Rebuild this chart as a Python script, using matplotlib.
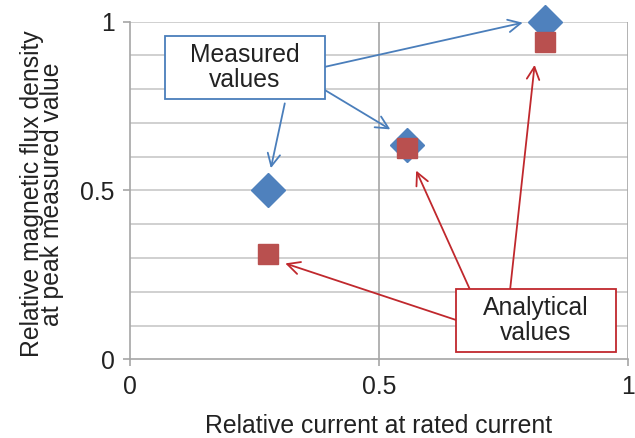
import matplotlib
matplotlib.use("Agg")
import matplotlib.pyplot as plt

plt.rcParams["font.family"] = ["Liberation Sans", "DejaVu Sans"]

# relative current vs relative flux density
current = [0.277, 0.556, 0.834]
measured = [0.50, 0.636, 1.00]
analytical = [0.312, 0.627, 0.94]

BLUE = "#4f81bd"
RED = "#b9504f"
BLUE_LINE = "#4a7ebb"
RED_LINE = "#c0282d"
FS = 17.8

fig = plt.figure(figsize=(6.35, 4.38), dpi=100)
ax = fig.add_axes([0.2047, 0.1797, 0.9885 - 0.2047, 0.9505 - 0.1797])

ax.set_xlim(0, 1)
ax.set_ylim(0, 1)

# horizontal grid every 0.1, vertical only at majors
for y in [i / 10 for i in range(1, 11)]:
    ax.axhline(y, color="#c8c8c8", lw=1.2, zorder=0)
for x in (0.5, 1.0):
    ax.axvline(x, color="#a6a6a6", lw=1.2, zorder=0)

for s in ("top", "right"):
    ax.spines[s].set_visible(False)
for s in ("left", "bottom"):
    ax.spines[s].set_color("#a6a6a6")
    ax.spines[s].set_linewidth(1.2)

ax.set_xticks([0, 0.5, 1])
ax.set_xticklabels(["0", "0.5", "1"])
ax.set_yticks([0, 0.5, 1])
ax.set_yticklabels(["0", "0.5", "1"])
ax.tick_params(colors="#a6a6a6", labelcolor="#222222", labelsize=FS,
               length=5, width=1.2)
ax.tick_params(axis="x", pad=6)
ax.tick_params(axis="y", pad=6)

ax.set_xlabel("Relative current at rated current", fontsize=FS,
              color="#222222", labelpad=11)
ax.set_ylabel("Relative magnetic flux density\nat peak measured value",
              fontsize=FS, color="#222222", linespacing=0.8)
ax.yaxis.set_label_coords(-0.132, 0.49)

ax.plot(current, measured, ls="none", marker="D", markersize=17.5,
        color=BLUE, zorder=3, clip_on=False)
ax.plot(current, analytical, ls="none", marker="s", markersize=15,
        color=RED, zorder=4, clip_on=False)

# callout boxes
ax.add_patch(plt.Rectangle((0.070, 0.771), 0.321, 0.187, facecolor="white",
                           edgecolor=BLUE_LINE, lw=1.3, zorder=5))
ax.text(0.2305, 0.864, "Measured\nvalues", ha="center", va="center",
        fontsize=FS, color="#222222", linespacing=1.02, zorder=6)
ax.add_patch(plt.Rectangle((0.655, 0.022), 0.321, 0.186, facecolor="white",
                           edgecolor=RED_LINE, lw=1.3, zorder=5))
ax.text(0.8155, 0.115, "Analytical\nvalues", ha="center", va="center",
        fontsize=FS, color="#222222", linespacing=1.02, zorder=6)

arrow_kw = dict(arrowstyle="->,head_length=0.9,head_width=0.45",
                shrinkA=0, shrinkB=0, lw=1.3)
blue_arrows = [((0.391, 0.866), (0.789, 0.997)),
               ((0.391, 0.798), (0.523, 0.681)),
               ((0.311, 0.758), (0.283, 0.566))]
red_arrows = [((0.656, 0.116), (0.312, 0.284)),
              ((0.682, 0.210), (0.575, 0.559)),
              ((0.764, 0.210), (0.813, 0.872))]
for (x0, y0), (x1, y1) in blue_arrows:
    ax.annotate("", xy=(x1, y1), xytext=(x0, y0), zorder=4,
                arrowprops=dict(color=BLUE_LINE, **arrow_kw))
for (x0, y0), (x1, y1) in red_arrows:
    ax.annotate("", xy=(x1, y1), xytext=(x0, y0), zorder=4,
                arrowprops=dict(color=RED_LINE, **arrow_kw))

fig.savefig("out.png", dpi=100)
